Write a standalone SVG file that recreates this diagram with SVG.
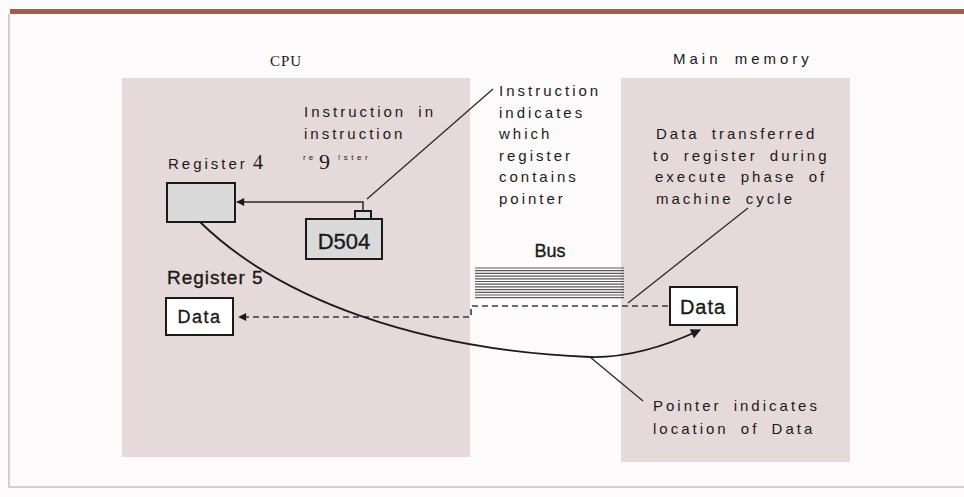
<svg xmlns="http://www.w3.org/2000/svg" width="964" height="497" viewBox="0 0 964 497">
<style>
.lbl{font-family:"Liberation Sans",Arial,sans-serif;font-size:15px;letter-spacing:3px;word-spacing:5px;fill:#1a1a1a}
.big{font-family:"Liberation Sans",Arial,sans-serif;fill:#1a1a1a;stroke:#1a1a1a;stroke-width:0.35}
.serif{font-family:"Liberation Serif","Times New Roman",serif;fill:#1a1a1a}
.panel{fill:#e6d9d9}
.box{stroke:#1a1a1a;stroke-width:2}
.lead{stroke:#2a2a2a;stroke-width:1.3;fill:none}
.bus line{stroke:#5a5a5a;stroke-width:1.2}
</style>
<defs>
<marker id="ah" viewBox="0 0 10 10" refX="9" refY="5" markerWidth="10" markerHeight="8" markerUnits="userSpaceOnUse" orient="auto"><path d="M0,0 L10,5 L0,10 z" fill="#1a1a1a"/></marker>
<marker id="ahb" viewBox="0 0 10 10" refX="9" refY="5" markerWidth="13" markerHeight="10" markerUnits="userSpaceOnUse" orient="auto"><path d="M0,0 L10,5 L0,10 z" fill="#1a1a1a"/></marker>
</defs>
<rect x="0" y="0" width="964" height="497" fill="#fcfafa"/>
<rect x="10" y="9" width="954" height="5" fill="#a65a52"/>
<path d="M9,14 V487 H964" fill="none" stroke="#c4c0c0" stroke-width="1.5"/>

<g id="cpu">
<rect class="panel" x="122" y="78" width="348" height="379"/>
<text class="serif" x="286" y="66" font-size="15" letter-spacing="1" text-anchor="middle">CPU</text>
</g>
<g id="memory">
<rect class="panel" x="621" y="78" width="229" height="384"/>
<text class="lbl" x="673" y="64" style="letter-spacing:4px">Main memory</text>
</g>

<g id="bus">
<text class="big" x="550" y="257" font-size="18" text-anchor="middle">Bus</text>
<g class="bus">
<line x1="475" y1="268" x2="624" y2="268"/><line x1="475" y1="270.7" x2="624" y2="270.7"/><line x1="475" y1="273.4" x2="624" y2="273.4"/><line x1="475" y1="276.1" x2="624" y2="276.1"/><line x1="475" y1="278.8" x2="624" y2="278.8"/><line x1="475" y1="281.5" x2="624" y2="281.5"/><line x1="475" y1="284.2" x2="624" y2="284.2"/><line x1="475" y1="286.9" x2="624" y2="286.9"/><line x1="475" y1="289.6" x2="624" y2="289.6"/><line x1="475" y1="292.3" x2="624" y2="292.3"/><line x1="475" y1="295" x2="624" y2="295"/><line x1="475" y1="297.7" x2="624" y2="297.7"/>
</g>
</g>

<g id="register4">
<text class="lbl" x="168" y="169">Register</text>
<text class="serif" x="253" y="169" font-size="20">4</text>
<rect class="box" x="167" y="183" width="68" height="39" fill="#dadada"/>
</g>

<g id="d504">
<rect class="box" x="355" y="211" width="16" height="8" fill="#dadada" stroke-width="1.5"/>
<rect class="box" x="306" y="219" width="76" height="40" fill="#dadada"/>
<text class="big" x="344" y="249" font-size="22" text-anchor="middle">D504</text>
</g>

<g id="register5">
<text class="big" x="167" y="284" font-size="19" letter-spacing="1">Register 5</text>
<rect class="box" x="166" y="298" width="67" height="37" fill="#ffffff"/>
<text class="big" x="199.5" y="323" font-size="18" letter-spacing="1.5" text-anchor="middle">Data</text>
</g>

<g id="memdata">
<rect class="box" x="670" y="287" width="67" height="38" fill="#ffffff"/>
<text class="big" x="703" y="314" font-size="20" letter-spacing="1" text-anchor="middle">Data</text>
</g>

<g id="note-instr-reg">
<text class="lbl" x="304" y="117">Instruction in</text>
<text class="lbl" x="304" y="139">instruction</text>
<text x="303" y="160"><tspan class="lbl" style="font-size:8px;letter-spacing:3px">re</tspan><tspan class="serif" x="319" y="169" font-size="22">9</tspan><tspan class="lbl" x="338" y="160" style="font-size:8px;letter-spacing:3.5px">!ster</tspan></text>
</g>

<g id="note-indicates">
<text class="lbl" x="499" y="96">Instruction</text>
<text class="lbl" x="499" y="117.5">indicates</text>
<text class="lbl" x="499" y="139">which</text>
<text class="lbl" x="499" y="160.5">register</text>
<text class="lbl" x="499" y="182">contains</text>
<text class="lbl" x="499" y="203.5">pointer</text>
</g>

<g id="note-transfer">
<text class="lbl" x="656" y="139">Data transferred</text>
<text class="lbl" x="653" y="160.5">to register during</text>
<text class="lbl" x="655" y="182">execute phase of</text>
<text class="lbl" x="656" y="203.5">machine cycle</text>
</g>

<g id="note-pointer">
<text class="lbl" x="653" y="411">Pointer indicates</text>
<text class="lbl" x="653" y="434">location of Data</text>
</g>

<g id="connectors">
<path d="M363,211 V202 H237" fill="none" stroke="#2a2a2a" stroke-width="1.5" marker-end="url(#ah)"/>
<path d="M668,306 H471 V317 H239" fill="none" stroke="#3a3a3a" stroke-width="1.6" stroke-dasharray="6 4" marker-end="url(#ah)"/>
<path d="M200,222 C280,300 420,350 590,357 C630,358 668,345 700,330" fill="none" stroke="#1a1a1a" stroke-width="1.8" marker-end="url(#ahb)"/>
<line class="lead" x1="367" y1="199" x2="493" y2="89"/>
<line class="lead" x1="628" y1="303" x2="748" y2="208"/>
<line class="lead" x1="590" y1="357" x2="643" y2="401"/>
</g>
</svg>
